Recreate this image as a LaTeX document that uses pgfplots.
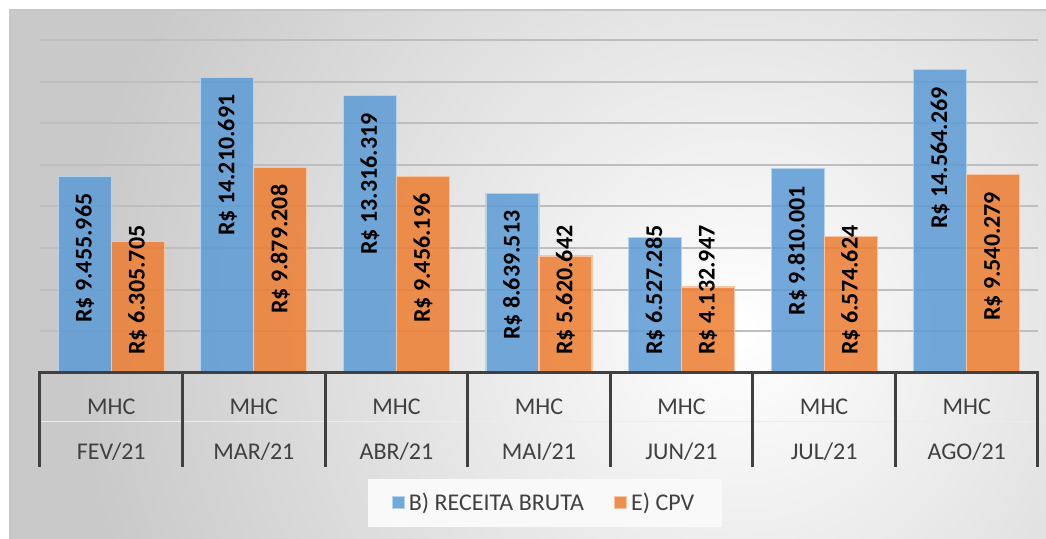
\documentclass[border=0pt]{standalone}
\usepackage{fontspec}
\setmainfont{Carlito}
\usepackage{pgfplots}
\usepackage{pgfplotstable}
\pgfplotsset{compat=1.18}
\definecolor{blu}{HTML}{5B9BD5}
\definecolor{org}{HTML}{ED7D31}
\definecolor{txt}{HTML}{404040}
\definecolor{gridc}{HTML}{BEBEBE}
\newcommand\fs{\fontsize{12}{14}\selectfont}

% values in millions of R$, ly = where the top of the label sits
\pgfplotstableread{
x y ly lbl
0 9.455965 8.636 9.455.965
1 14.210691 13.391 14.210.691
2 13.316319 12.496 13.316.319
3 8.639513 7.820 8.639.513
4 6.527285 7.1 6.527.285
5 9.810001 8.990 9.810.001
6 14.564269 13.744 14.564.269
}\receita
\pgfplotstableread{
x y ly lbl
0 6.305705 7.1 6.305.705
1 9.879208 9.059 9.879.208
2 9.456196 8.636 9.456.196
3 5.620642 7.1 5.620.642
4 4.132947 7.1 4.132.947
5 6.574624 7.1 6.574.624
6 9.540279 8.720 9.540.279
}\cpv

\pgfplotsset{lbl/.style={draw=none, mark=none, forget plot,
  point meta=explicit symbolic, nodes near coords={R\$ \pgfplotspointmeta},
  every node near coord/.append style={xshift=#1, rotate=90, anchor=east,
    font=\fs\bfseries, text=black, inner sep=0pt}}}

\begin{document}
\begin{tikzpicture}[x=1pt,y=1pt]
\useasboundingbox (0,0) rectangle (523,269.5);
\fill[white] (0,0) rectangle (523,269.5);
\begin{scope}
\clip (5,0) rectangle (523,264.5);
\fill[gray!42] (5,0) rectangle (523,264.5);
\shade[inner color=white, outer color=gray!42] (370,104.5) circle (330);
\end{scope}
\draw[gray!45, line width=0.8pt] (5,0) -- (5,264.5) -- (523,264.5);

\begin{axis}[
at={(20pt,83pt)}, anchor=south west,
scale only axis, width=499pt, height=166.5pt,
xmin=-0.5, xmax=6.5, ymin=0, ymax=16,
clip=false,
axis line style={draw=none},
major tick length=0pt,
ytick={2,4,...,16}, yticklabels={},
ymajorgrids, grid style={gridc, line width=1pt},
xtick={0,...,6},
xticklabels={{MHC\\FEV/21},{MHC\\MAR/21},{MHC\\ABR/21},{MHC\\MAI/21},{MHC\\JUN/21},{MHC\\JUL/21},{MHC\\AGO/21}},
xticklabel style={align=center, anchor=north, inner sep=0pt, yshift=-13pt,
  font=\fontsize{12}{22.5}\selectfont, text=txt},
legend style={at={(0.506,-0.39)}, anchor=center, legend columns=-1, draw=none,
  fill=gray!5, font=\fs, text=txt, inner xsep=12pt, inner ysep=5pt,
  /tikz/every even column/.append style={column sep=13pt}},
legend image code/.code={\draw[#1, draw opacity=1] (0pt,-3pt) rectangle (6pt,3pt);},
]
\addplot[ybar, bar width=26.5pt, bar shift=-13.25pt, fill=blu, fill opacity=0.85,
  draw=blu!45!white, line width=0.6pt]
  table[x=x, y=y] {\receita};
\addplot[ybar, bar width=26.5pt, bar shift=13.25pt, fill=org, fill opacity=0.85,
  draw=org!45!white, line width=0.6pt]
  table[x=x, y=y] {\cpv};
\legend{B) RECEITA BRUTA, E) CPV}
\addplot[lbl=-13.25pt] table[x=x, y=ly, meta=lbl] {\receita};
\addplot[lbl=13.25pt] table[x=x, y=ly, meta=lbl] {\cpv};
\draw[gray!15, line width=0.5pt] ([yshift=-24.5pt]axis cs:-0.5,0) -- ([yshift=-24.5pt]axis cs:6.5,0);
\pgfplotsinvokeforeach{-0.5,0.5,1.5,2.5,3.5,4.5,5.5,6.5}{
  \draw[txt, line width=1.5pt] (axis cs:#1,0) -- ([yshift=-47pt]axis cs:#1,0);
}
\draw[txt, line width=1.5pt] ([xshift=-0.75pt]axis cs:-0.5,0) -- ([xshift=0.75pt]axis cs:6.5,0);
\end{axis}
\end{tikzpicture}
\end{document}
